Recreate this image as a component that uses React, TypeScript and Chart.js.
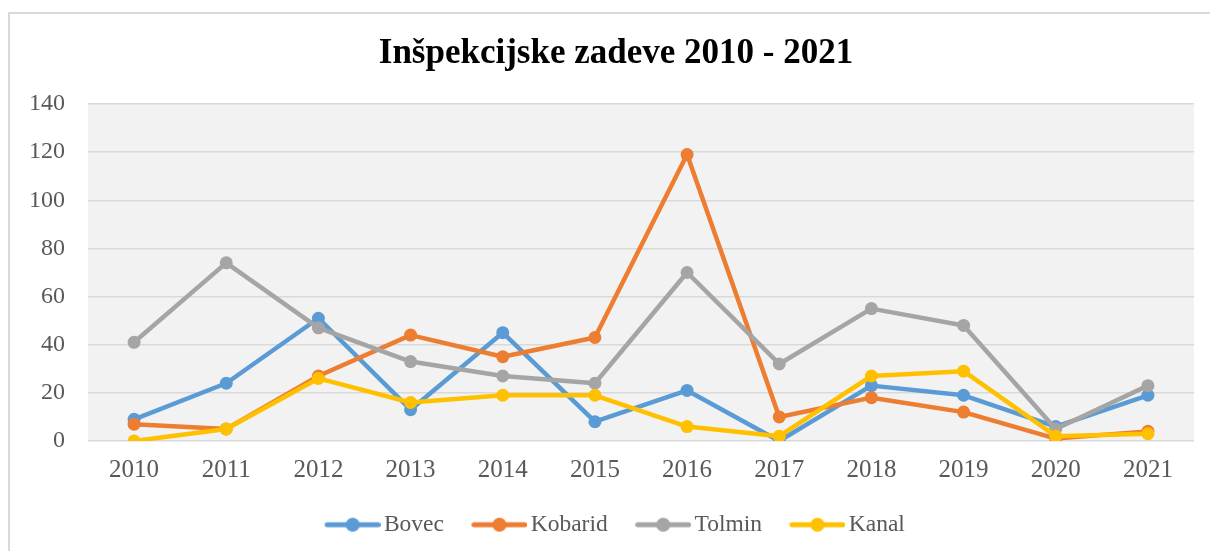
import React, { useEffect, useRef } from "react";
import { Chart, registerables } from "chart.js";

Chart.register(...registerables);

const titleText = "Inšpekcijske zadeve 2010 - 2021";
const years = ["2010", "2011", "2012", "2013", "2014", "2015", "2016", "2017", "2018", "2019", "2020", "2021"];
const bovec = [9, 24, 51, 13, 45, 8, 21, 0, 23, 19, 6, 19];
const kobarid = [7, 5, 27, 44, 35, 43, 119, 10, 18, 12, 1, 4];
const tolmin = [41, 74, 47, 33, 27, 24, 70, 32, 55, 48, 5, 23];
const kanal = [0, 5, 26, 16, 19, 19, 6, 2, 27, 29, 2, 3];
const seriesNames = ["Bovec", "Kobarid", "Tolmin", "Kanal"];
const seriesColors = ["#5b9bd5", "#ed7d31", "#a5a5a5", "#ffc000"];
const yMin = 0;
const yMax = 140;
const yStep = 20;

const FONT = "'Liberation Serif', 'Times New Roman', serif";
const LEGEND_BOX_W = 45;
const LEGEND_PAD = 30;

function makeIcon(color: string): HTMLCanvasElement {
  const c = document.createElement("canvas");
  const w = LEGEND_BOX_W + 17;
  c.width = w;
  c.height = 18;
  const ctx = c.getContext("2d")!;
  ctx.strokeStyle = color;
  ctx.fillStyle = color;
  ctx.lineWidth = 5;
  ctx.lineCap = "round";
  const x0 = w - 56 + 2.5;
  const x1 = w - 2.5;
  ctx.beginPath();
  ctx.moveTo(x0, 9);
  ctx.lineTo(x1, 9);
  ctx.stroke();
  ctx.beginPath();
  ctx.arc((x0 + x1) / 2, 9, 7, 0, Math.PI * 2);
  ctx.fill();
  return c;
}

const plotBg = {
  id: "plotBg",
  beforeDraw(chart: any) {
    const { ctx, chartArea } = chart;
    if (!chartArea) return;
    ctx.save();
    ctx.fillStyle = "#f2f2f2";
    ctx.fillRect(chartArea.left, chartArea.top, chartArea.right - chartArea.left, chartArea.bottom - chartArea.top);
    ctx.restore();
  },
};

export default function App() {
  const ref = useRef<HTMLCanvasElement | null>(null);

  useEffect(() => {
    const values = [bovec, kobarid, tolmin, kanal];
    const icons = seriesColors.map((c) => makeIcon(c));
    const chart = new Chart(ref.current!, {
      type: "line",
      data: {
        labels: years,
        datasets: seriesNames.map((name, i) => ({
          label: name,
          data: values[i],
          borderColor: seriesColors[i],
          backgroundColor: seriesColors[i],
          borderWidth: 4.5,
          borderJoinStyle: "round" as const,
          borderCapStyle: "round" as const,
          pointRadius: 6.5,
          pointHoverRadius: 6.5,
          pointBorderWidth: 0,
          pointBackgroundColor: seriesColors[i],
          tension: 0,
          order: seriesNames.length - i,
          yAxisID: "y",
        })),
      },
      options: {
        animation: false,
        responsive: false,
        events: [],
        layout: { padding: { left: 22, right: 0, top: 0, bottom: 4.5 } },
        scales: {
          x: {
            offset: true,
            grid: { display: false, drawTicks: false },
            border: { display: false },
            ticks: { color: "#595959", font: { family: FONT, size: 25 }, padding: 14, maxRotation: 0 },
            afterFit: (s: any) => {
              s.height = 42;
            },
          },
          y: {
            min: yMin,
            max: yMax,
            ticks: { stepSize: yStep, color: "#595959", font: { family: FONT, size: 24 }, padding: 23 },
            grid: { color: "#d9d9d9", lineWidth: 1.5, drawTicks: false },
            border: { display: false },
            afterFit: (s: any) => {
              s.width = 66;
            },
          },
          yR: {
            position: "right",
            display: true,
            ticks: { display: false },
            grid: { display: false, drawTicks: false },
            border: { display: false },
            afterFit: (s: any) => {
              s.width = 16;
            },
          },
        },
        plugins: {
          title: {
            display: true,
            text: titleText,
            color: "#000000",
            font: { family: FONT, size: 35, weight: "bold", lineHeight: 1.2 },
            padding: { top: 33, bottom: 29 },
          },
          legend: {
            position: "bottom",
            labels: {
              usePointStyle: true,
              pointStyleWidth: LEGEND_BOX_W,
              padding: LEGEND_PAD,
              color: "#595959",
              font: { family: FONT, size: 23.5 },
              generateLabels: (ch: any) =>
                ch.data.datasets.map((ds: any, i: number) => ({
                  text: ds.label,
                  fillStyle: seriesColors[i],
                  strokeStyle: seriesColors[i],
                  fontColor: "#595959",
                  lineWidth: 0,
                  pointStyle: icons[i],
                  hidden: false,
                  datasetIndex: i,
                })),
            },
          },
          tooltip: { enabled: false },
        },
      },
      plugins: [plotBg],
    } as any);
    return () => chart.destroy();
  }, []);

  return (
    <div style={{ position: "fixed", left: 0, top: 0, width: 1210, height: 551, overflow: "hidden", background: "#ffffff" }}>
      <div
        style={{
          position: "absolute",
          left: 8,
          top: 12,
          width: 1300,
          height: 700,
          borderLeft: "2px solid #d9d9d9",
          borderTop: "2px solid #d9d9d9",
        }}
      />
      <canvas ref={ref} width={1210} height={551} style={{ position: "absolute", left: 0, top: 0, width: 1210, height: 551 }} />
    </div>
  );
}
